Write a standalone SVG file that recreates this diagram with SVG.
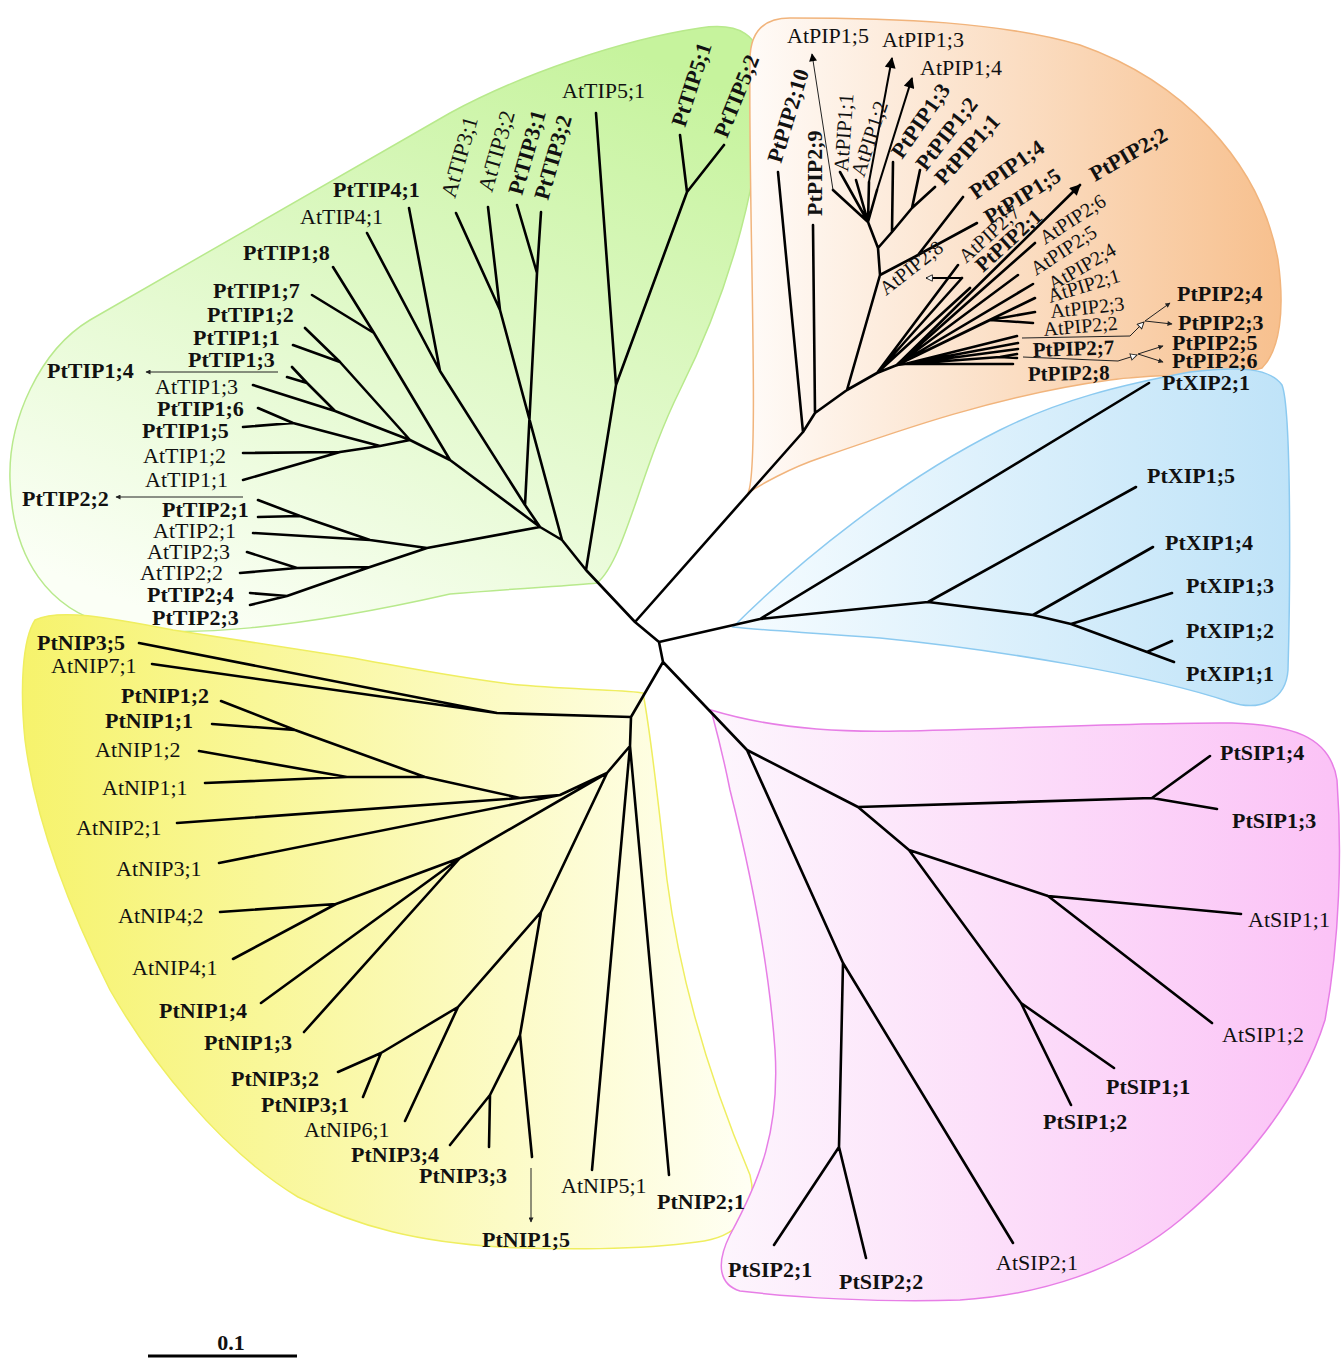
<svg xmlns="http://www.w3.org/2000/svg" width="1342" height="1359" viewBox="0 0 1342 1359">
<defs>
<style>
text{font-family:"Liberation Serif","Times New Roman",serif;font-size:22px;fill:#111}
.b{font-weight:bold}
.s20{font-size:20px}
.s21{font-size:21px}
.br{fill:none;stroke:#000;stroke-width:2.6;stroke-linecap:round;stroke-linejoin:round}
.th{fill:none;stroke:#222;stroke-width:1}
.md{fill:none;stroke:#000;stroke-width:2}
</style>
<linearGradient id="gT" x1="0.75" y1="0" x2="0.25" y2="1"><stop offset="0" stop-color="#c6f39d"/><stop offset="1" stop-color="#fbfff6"/></linearGradient>
<linearGradient id="gP" x1="0" y1="0" x2="1" y2="0"><stop offset="0" stop-color="#fffbf8"/><stop offset="1" stop-color="#f7c08e"/></linearGradient>
<linearGradient id="gX" x1="0" y1="0" x2="1" y2="0"><stop offset="0" stop-color="#f6fcff"/><stop offset="1" stop-color="#bfe3f8"/></linearGradient>
<linearGradient id="gN" x1="0" y1="0" x2="1" y2="0"><stop offset="0" stop-color="#f6f36c"/><stop offset="1" stop-color="#fffff4"/></linearGradient>
<linearGradient id="gS" x1="0" y1="0" x2="1" y2="0"><stop offset="0" stop-color="#fdf6fd"/><stop offset="1" stop-color="#fbc2f6"/></linearGradient>
<marker id="big" viewBox="0 0 10 10" refX="9" refY="5" markerWidth="14" markerHeight="11" markerUnits="userSpaceOnUse" orient="auto"><path d="M0,0 L10,5 L0,10 Z" fill="#000"/></marker>
<marker id="mid" viewBox="0 0 10 10" refX="9" refY="5" markerWidth="9" markerHeight="8" markerUnits="userSpaceOnUse" orient="auto"><path d="M0,0 L10,5 L0,10 Z" fill="#000"/></marker>
<marker id="sm" viewBox="0 0 10 10" refX="9" refY="5" markerWidth="6" markerHeight="5" markerUnits="userSpaceOnUse" orient="auto"><path d="M0,0 L10,5 L0,10 Z" fill="#222"/></marker>
<marker id="op" viewBox="0 0 10 10" refX="9" refY="5" markerWidth="10" markerHeight="8" markerUnits="userSpaceOnUse" orient="auto"><path d="M1,1 L9,5 L1,9 Z" fill="#fff" stroke="#222" stroke-width="1.2"/></marker>
</defs>
<rect width="1342" height="1359" fill="#fff"/>
<g id="clades">
<path id="clade-TIP" d="M597,583 C625,560 640,470 680,390 C730,290 765,170 762,70 C760,35 740,22 700,28 C620,40 520,75 450,113 L90,320 C40,350 8,420 10,480 C12,560 50,610 110,625 C180,640 300,628 450,594 C520,588 570,586 597,583 Z" fill="url(#gT)" stroke="#b8e98c" stroke-width="1.5"/>
<path id="clade-PIP" d="M748,493 C760,470 748,200 750,60 C750,30 765,18 790,18 C900,18 1000,22 1080,45 C1180,80 1260,160 1278,260 C1285,310 1280,350 1262,368 C1230,378 1160,372 1110,380 C1000,395 900,430 820,458 C790,468 760,485 748,493 Z" fill="url(#gP)" stroke="#f1b47c" stroke-width="1.5"/>
<path id="clade-XIP" d="M733,627 C800,560 900,480 1000,430 C1060,400 1120,385 1190,372 C1240,366 1270,368 1282,385 C1292,410 1290,600 1288,670 C1286,700 1260,712 1230,702 C1150,675 1000,650 880,638 C800,632 760,630 733,627 Z" fill="url(#gX)" stroke="#8ccaf0" stroke-width="1.5"/>
<path id="clade-NIP" d="M35,620 C60,608 110,618 173,630 C250,642 300,650 347,657 C420,670 470,680 520,685 C580,690 630,690 643,693 C652,740 660,820 667,880 C680,980 710,1080 750,1175 C760,1215 735,1238 697,1242 C640,1250 560,1250 500,1247 C420,1242 360,1228 298,1197 C220,1150 150,1060 110,990 C70,910 35,820 25,740 C20,690 22,640 35,620 Z" fill="url(#gN)" stroke="#efee60" stroke-width="1.5"/>
<path id="clade-SIP" d="M711,710 C760,725 820,733 900,731 C1000,729 1150,722 1232,723 C1290,725 1330,735 1337,780 C1342,850 1340,940 1325,1020 C1300,1100 1240,1170 1180,1220 C1120,1270 1040,1295 960,1300 C880,1303 790,1297 740,1291 C720,1285 715,1265 730,1235 C760,1180 780,1130 775,1050 C768,950 745,850 730,790 C722,750 715,725 711,710 Z" fill="url(#gS)" stroke="#e77ee6" stroke-width="1.5"/>
</g>
<g id="connectors">
<path class="br" d="M635,622 L659,642 L663,662
M635,622 L586,570 L562,540 L540,527
M586,570 L616,385 L596,113 M616,385 L687,192 L680,135 M687,192 L724,145
M562,540 L500,310 L456,213 M500,310 L488,207
M540,527 L525,505 L440,371 L409,208 M440,371 L367,233
M525,505 L537,273 L517,205 M537,273 L541,212
M540,527 L450,460 L374,333 L333,267 M374,333 L312,295
M450,460 L410,440 L340,362 L305,328 M340,362 L293,345
M410,440 L335,411 L307,383 L292,367 M307,383 L287,377 M335,411 L253,385
M410,440 L380,446 L293,423 L258,408 M293,423 L243,427
M380,446 L340,452 L243,453 M340,452 L243,480
M540,527 L427,548 L370,540 L300,516 L258,500 M300,516 L258,517 M370,540 L253,533
M427,548 L370,567 L297,568 L247,552 M297,568 L240,573 M370,567 L287,596 L250,593 M287,596 L250,605
M635,622 L803,432 L778,172 M803,432 L815,413 L813,225 M815,413 L847,390 L880,275 L878,248 L868,222
M868,222 L833,190 M868,222 L840,172 M868,222 L856,180 M868,222 L869,182 M868,222 L877,190
M878,248 L892,232 L893,162 M892,232 L912,208 L920,170 M912,208 L935,187
M880,275 L918,255 L963,197 M918,255 L977,223
M847,390 L877,373 L958,265 M877,373 L962,278 M877,373 L970,288 M877,373 L897,365
M897,365 L1035,243 M897,365 L1018,275 M897,365 L1033,284 M897,365 L1035,298 M897,365 L990,320 L1035,312 M990,320 L1033,323
M897,365 L905,364 L1017,336 M905,364 L1018,343 M905,364 L1018,349 M905,364 L1000,357 L1017,354 M1000,357 L1017,358 M905,364 L1013,364
M659,642 L760,619 L1149,383 M760,619 L928,602 L1136,487 M928,602 L1033,615 L1153,547 M1033,615 L1071,624 L1172,593 M1071,624 L1147,652 L1172,641 M1147,652 L1174,662
M663,662 L631,717 L497,713 L139,643 M497,713 L152,664
M631,717 L630,746 L669,1175 M630,746 L592,1170 M630,746 L607,773
M607,773 L541,912 L458,1007 L381,1053 L338,1072 M381,1053 L363,1097 M458,1007 L405,1121
M541,912 L520,1035 L490,1095 L450,1145 M490,1095 L489,1147 M520,1035 L532,1157
M607,773 L560,795 L219,863 M560,795 L520,798 L177,823 M520,798 L425,777 L295,730 L221,701 M295,730 L212,724 M425,777 L347,777 L199,751 M347,777 L205,783
M607,773 L460,858 L336,904 L220,912 M336,904 L233,959 M460,858 L261,1003 M460,858 L304,1032
M663,662 L747,750 L858,807 L1152,798 L1210,756 M1152,798 L1217,809
M858,807 L909,850 L1048,896 L1241,914 M1048,896 L1212,1023 M909,850 L1021,1003 L1114,1068 M1021,1003 L1071,1105
M747,750 L843,963 L1013,1243 M843,963 L839,1147 L774,1245 M839,1147 L866,1258"/>
<path class="br" d="M897,365 L1080,185" marker-end="url(#big)"/>
<path class="md" d="M869,182 L892,58" marker-end="url(#big)"/>
<path class="md" d="M877,190 L912,78" marker-end="url(#big)"/>
<path class="th" d="M833,190 L812,54" marker-end="url(#mid)"/>
<path class="th" d="M278,372 L146,372" marker-end="url(#sm)"/>
<path class="th" d="M243,497 L116,497" marker-end="url(#sm)"/>
<path class="th" d="M531,1168 L531,1222" marker-end="url(#sm)"/>
<path class="md" d="M962,278 L926,278" marker-end="url(#op)"/>
<path class="th" d="M1022,338 L1130,336 L1144,322" marker-end="url(#op)"/>
<path class="th" d="M1145,321 L1170,303" marker-end="url(#sm)"/>
<path class="th" d="M1145,321 L1172,324" marker-end="url(#sm)"/>
<path class="th" d="M1023,357 L1118,361 L1137,355" marker-end="url(#op)"/>
<path class="th" d="M1138,354 L1163,346" marker-end="url(#sm)"/>
<path class="th" d="M1138,354 L1163,362" marker-end="url(#sm)"/>
<path stroke="#000" stroke-width="3" d="M148,1356 L297,1356"/>
</g>
<g id="labels-TIP">
<g id="PtTIP4_1"><text class="b" x="333" y="197">PtTIP4;1</text></g>
<g id="AtTIP4_1"><text x="300" y="224">AtTIP4;1</text></g>
<g id="PtTIP1_8"><text class="b" x="243" y="260">PtTIP1;8</text></g>
<g id="PtTIP1_7"><text class="b" x="213" y="298">PtTIP1;7</text></g>
<g id="PtTIP1_2"><text class="b" x="207" y="322">PtTIP1;2</text></g>
<g id="PtTIP1_1"><text class="b" x="193" y="345">PtTIP1;1</text></g>
<g id="PtTIP1_3"><text class="b" x="188" y="367">PtTIP1;3</text></g>
<g id="PtTIP1_4"><text class="b" x="47" y="378">PtTIP1;4</text></g>
<g id="AtTIP1_3"><text x="155" y="394">AtTIP1;3</text></g>
<g id="PtTIP1_6"><text class="b" x="157" y="416">PtTIP1;6</text></g>
<g id="PtTIP1_5"><text class="b" x="142" y="438">PtTIP1;5</text></g>
<g id="AtTIP1_2"><text x="143" y="463">AtTIP1;2</text></g>
<g id="AtTIP1_1"><text x="145" y="487">AtTIP1;1</text></g>
<g id="PtTIP2_2"><text class="b" x="22" y="506">PtTIP2;2</text></g>
<g id="PtTIP2_1"><text class="b" x="162" y="517">PtTIP2;1</text></g>
<g id="AtTIP2_1"><text x="153" y="538">AtTIP2;1</text></g>
<g id="AtTIP2_3"><text x="147" y="559">AtTIP2;3</text></g>
<g id="AtTIP2_2"><text x="140" y="580">AtTIP2;2</text></g>
<g id="PtTIP2_4"><text class="b" x="147" y="602">PtTIP2;4</text></g>
<g id="PtTIP2_3"><text class="b" x="152" y="625">PtTIP2;3</text></g>
<g id="AtTIP3_1"><text transform="translate(455,199) rotate(-74)">AtTIP3;1</text></g>
<g id="AtTIP3_2"><text transform="translate(492,193) rotate(-74)">AtTIP3;2</text></g>
<g id="PtTIP3_1"><text class="b" transform="translate(522,196) rotate(-74)">PtTIP3;1</text></g>
<g id="PtTIP3_2"><text class="b" transform="translate(548,201) rotate(-74)">PtTIP3;2</text></g>
<g id="AtTIP5_1"><text x="562" y="98">AtTIP5;1</text></g>
<g id="PtTIP5_1"><text class="b" transform="translate(685,128) rotate(-72)">PtTIP5;1</text></g>
<g id="PtTIP5_2"><text class="b" transform="translate(727,139) rotate(-68)">PtTIP5;2</text></g>
</g>
<g id="labels-PIP">
<g id="AtPIP1_5"><text x="787" y="43">AtPIP1;5</text></g>
<g id="AtPIP1_3"><text x="882" y="47">AtPIP1;3</text></g>
<g id="AtPIP1_4"><text x="920" y="75">AtPIP1;4</text></g>
<g id="PtPIP2_10"><text class="b" transform="translate(781,164) rotate(-73)">PtPIP2;10</text></g>
<g id="PtPIP2_9"><text class="b" transform="translate(822,216) rotate(-90)">PtPIP2;9</text></g>
<g id="AtPIP1_1"><text class="s21" transform="translate(848,172) rotate(-86)">AtPIP1;1</text></g>
<g id="AtPIP1_2"><text class="s21" transform="translate(864,178) rotate(-72)">AtPIP1;2</text></g>
<g id="PtPIP1_3"><text class="b" transform="translate(902,160) rotate(-55)">PtPIP1;3</text></g>
<g id="PtPIP1_2"><text class="b" transform="translate(926,172) rotate(-52)">PtPIP1;2</text></g>
<g id="PtPIP1_1"><text class="b" transform="translate(944,186) rotate(-48)">PtPIP1;1</text></g>
<g id="PtPIP1_4"><text class="b" transform="translate(976,200) rotate(-35)">PtPIP1;4</text></g>
<g id="PtPIP1_5"><text class="b" transform="translate(990,225) rotate(-32)">PtPIP1;5</text></g>
<g id="AtPIP2_7"><text class="s20" transform="translate(966,264) rotate(-42)">AtPIP2;7</text></g>
<g id="PtPIP2_1"><text class="b s21" transform="translate(983,273) rotate(-42)">PtPIP2;1</text></g>
<g id="AtPIP2_8"><text class="s20" transform="translate(886,296) rotate(-38)">AtPIP2;8</text></g>
<g id="PtPIP2_2"><text class="b" transform="translate(1095,182) rotate(-30)">PtPIP2;2</text></g>
<g id="AtPIP2_6"><text class="s20" transform="translate(1045,245) rotate(-33)">AtPIP2;6</text></g>
<g id="AtPIP2_5"><text class="s20" transform="translate(1036,276) rotate(-33)">AtPIP2;5</text></g>
<g id="AtPIP2_4"><text class="s20" transform="translate(1053,291) rotate(-30)">AtPIP2;4</text></g>
<g id="AtPIP2_1"><text class="s20" transform="translate(1050,303) rotate(-17)">AtPIP2;1</text></g>
<g id="AtPIP2_3"><text class="s20" transform="translate(1051,318) rotate(-6)">AtPIP2;3</text></g>
<g id="AtPIP2_2"><text class="s20" transform="translate(1044,336) rotate(-5)">AtPIP2;2</text></g>
<g id="PtPIP2_7"><text class="b s21" transform="translate(1033,357) rotate(-2)">PtPIP2;7</text></g>
<g id="PtPIP2_8"><text class="b s21" transform="translate(1028,381) rotate(-1)">PtPIP2;8</text></g>
<g id="PtPIP2_4"><text class="b" x="1177" y="301">PtPIP2;4</text></g>
<g id="PtPIP2_3"><text class="b" x="1178" y="330">PtPIP2;3</text></g>
<g id="PtPIP2_5"><text class="b" x="1172" y="350">PtPIP2;5</text></g>
<g id="PtPIP2_6"><text class="b" x="1172" y="368">PtPIP2;6</text></g>
</g>
<g id="labels-XIP">
<g id="PtXIP2_1"><text class="b" x="1162" y="390">PtXIP2;1</text></g>
<g id="PtXIP1_5"><text class="b" x="1147" y="483">PtXIP1;5</text></g>
<g id="PtXIP1_4"><text class="b" x="1165" y="550">PtXIP1;4</text></g>
<g id="PtXIP1_3"><text class="b" x="1186" y="593">PtXIP1;3</text></g>
<g id="PtXIP1_2"><text class="b" x="1186" y="638">PtXIP1;2</text></g>
<g id="PtXIP1_1"><text class="b" x="1186" y="681">PtXIP1;1</text></g>
</g>
<g id="labels-NIP">
<g id="PtNIP3_5"><text class="b" x="37" y="650">PtNIP3;5</text></g>
<g id="AtNIP7_1"><text x="51" y="673">AtNIP7;1</text></g>
<g id="PtNIP1_2"><text class="b" x="121" y="703">PtNIP1;2</text></g>
<g id="PtNIP1_1"><text class="b" x="105" y="728">PtNIP1;1</text></g>
<g id="AtNIP1_2"><text x="95" y="757">AtNIP1;2</text></g>
<g id="AtNIP1_1"><text x="102" y="795">AtNIP1;1</text></g>
<g id="AtNIP2_1"><text x="76" y="835">AtNIP2;1</text></g>
<g id="AtNIP3_1"><text x="116" y="876">AtNIP3;1</text></g>
<g id="AtNIP4_2"><text x="118" y="923">AtNIP4;2</text></g>
<g id="AtNIP4_1"><text x="132" y="975">AtNIP4;1</text></g>
<g id="PtNIP1_4"><text class="b" x="159" y="1018">PtNIP1;4</text></g>
<g id="PtNIP1_3"><text class="b" x="204" y="1050">PtNIP1;3</text></g>
<g id="PtNIP3_2"><text class="b" x="231" y="1086">PtNIP3;2</text></g>
<g id="PtNIP3_1"><text class="b" x="261" y="1112">PtNIP3;1</text></g>
<g id="AtNIP6_1"><text x="304" y="1137">AtNIP6;1</text></g>
<g id="PtNIP3_4"><text class="b" x="351" y="1162">PtNIP3;4</text></g>
<g id="PtNIP3_3"><text class="b" x="419" y="1183">PtNIP3;3</text></g>
<g id="AtNIP5_1"><text x="561" y="1193">AtNIP5;1</text></g>
<g id="PtNIP2_1"><text class="b" x="657" y="1209">PtNIP2;1</text></g>
<g id="PtNIP1_5"><text class="b" x="482" y="1247">PtNIP1;5</text></g>
</g>
<g id="labels-SIP">
<g id="PtSIP1_4"><text class="b" x="1220" y="760">PtSIP1;4</text></g>
<g id="PtSIP1_3"><text class="b" x="1232" y="828">PtSIP1;3</text></g>
<g id="AtSIP1_1"><text x="1248" y="927">AtSIP1;1</text></g>
<g id="AtSIP1_2"><text x="1222" y="1042">AtSIP1;2</text></g>
<g id="PtSIP1_1"><text class="b" x="1106" y="1094">PtSIP1;1</text></g>
<g id="PtSIP1_2"><text class="b" x="1043" y="1129">PtSIP1;2</text></g>
<g id="PtSIP2_1"><text class="b" x="728" y="1277">PtSIP2;1</text></g>
<g id="PtSIP2_2"><text class="b" x="839" y="1289">PtSIP2;2</text></g>
<g id="AtSIP2_1"><text x="996" y="1270">AtSIP2;1</text></g>
</g>
<g id="scale"><text class="b" x="231" y="1350" text-anchor="middle">0.1</text></g>
</svg>
